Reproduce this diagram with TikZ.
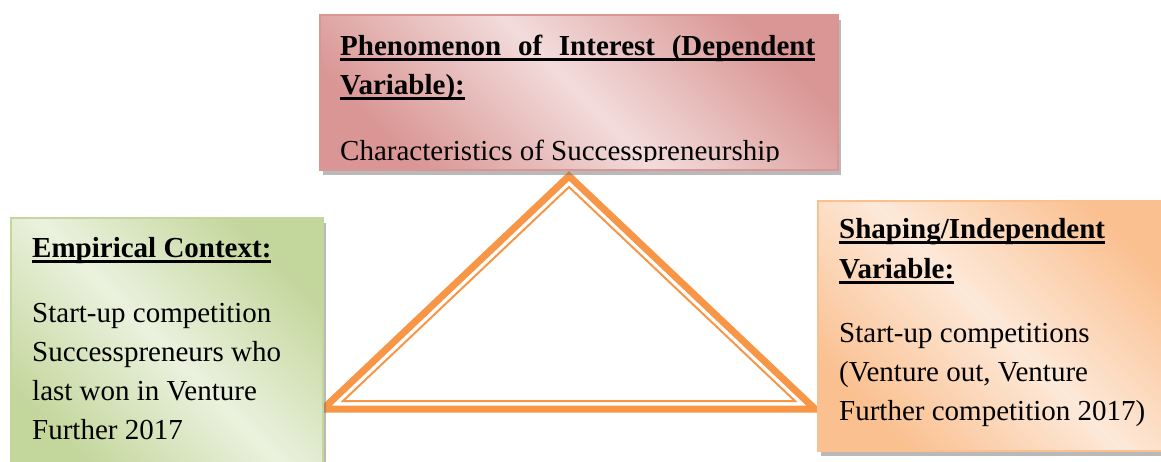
\documentclass[tikz,border=0pt]{standalone}
\usepackage{fontspec}
\setmainfont{Liberation Serif}
\usepackage{tikz}
\usetikzlibrary{shadows,calc}
\definecolor{cfpink}{HTML}{D99694}
\definecolor{cfpinklt}{HTML}{F2DCDB}
\definecolor{cfgreen}{HTML}{C3D69B}
\definecolor{cfgreenlt}{HTML}{EBF1DE}
\definecolor{cforange}{HTML}{FAC090}
\definecolor{cforangelt}{HTML}{FDE9D9}
\definecolor{cftri}{HTML}{F79646}
\newcommand\hdul[1]{\setbox0\hbox{#1}\rlap{\rule[-6pt]{\wd0}{2.6pt}}\box0}
\tikzset{
  panel/.style={draw=#1,line width=1.5pt,top color=#1,bottom color=#1,middle color=#1lt,
                shading angle=-45,anchor=north west,inner sep=0pt,
                drop shadow={shadow xshift=3pt,shadow yshift=-5pt,fill=black!55,opacity=.5}},
  txt/.style={anchor=base west,inner sep=0pt,font=\fontsize{29}{39}\selectfont},
  hd/.style={txt,font=\fontsize{29}{39}\selectfont\bfseries},
  tri/.style={draw=cftri,line join=miter},
}
\begin{document}
\begin{tikzpicture}[x=1pt,y=-1pt]
  \useasboundingbox (0,0) rectangle (1161,461);
  % triangle linking the three panels
  \coordinate (apex) at (569,176);
  \coordinate (bl) at (323,409);
  \coordinate (br) at (815,409);
  \draw[tri,line width=7pt] (apex) -- (bl) -- (br) -- cycle;
  \draw[tri,line width=2pt] ($(apex)+(0,11)$) -- ($(bl)+(20,-8)$) -- ($(br)+(-20,-8)$) -- cycle;
  % panels
  \node[panel=cfpink,minimum width=518pt,minimum height=155pt] (phen) at (319,14) {};
  \node[panel=cfgreen,minimum width=312pt,minimum height=260pt] (emp) at (10,217) {};
  \node[panel=cforange,minimum width=360pt,minimum height=250pt] (shp) at (817,200) {};
  % top panel text
  \node[hd] (phenh1) at (340,55) {\hdul{\makebox[475pt][s]{Phenomenon of Interest (Dependent}}};
  \node[hd] (phenh2) at (340,94) {\hdul{Variable):}};
  \begin{scope}
    \clip (phen.north west) rectangle ($(phen.south east)+(0,-9)$);
    \node[txt] (phenb) at (340,160) {Characteristics of Successpreneurship};
  \end{scope}
  % left panel text
  \node[hd] (emph) at (32,257) {\hdul{Empirical Context:}};
  \foreach \t [count=\i] in {Start-up competition,Successpreneurs who,last won in Venture,Further 2017}
    \node[txt] (emp\i) at (32,283+39*\i) {\t};
  % right panel text
  \node[hd] (shph1) at (839,238) {\hdul{Shaping/Independent}};
  \node[hd] (shph2) at (839,278) {\hdul{Variable:}};
  \foreach \t [count=\i] in {Start-up competitions,{(Venture out, Venture},Further competition 2017)}
    \node[txt] (shp\i) at (839,303+39*\i) {\t};
\end{tikzpicture}
\end{document}
